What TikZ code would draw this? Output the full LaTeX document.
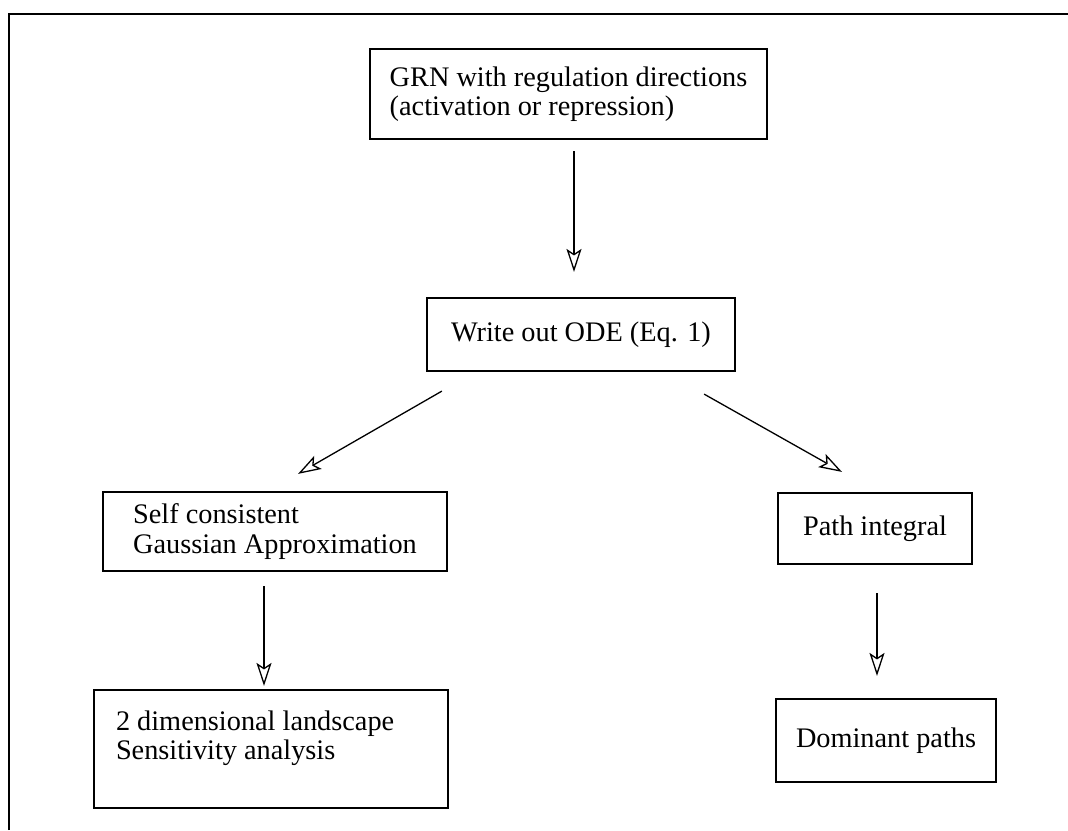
\documentclass[tikz,border=0pt]{standalone}
\usepackage{fontspec}
\setmainfont{Liberation Serif}
\usetikzlibrary{arrows.meta,calc}
\begin{document}
\begin{tikzpicture}[x=1pt,y=-1pt,
  box/.style={draw, line width=2.2pt, inner sep=0pt, align=left,
    font=\fontsize{28.3}{29.5}\selectfont},
  arr/.style={line width=1.3pt,
    -{Stealth[open, length=23pt, width=15pt, inset=5pt]}}]
\useasboundingbox (0,0) rectangle (1068,830);
% outer frame (left and top sides only)
\draw[line width=2.5pt] (9,830) -- (9,14) -- (1068,14);
% boxes
\node[box, minimum width=397pt, minimum height=90pt] (b1) at (568.5,94)
  {GRN with regulation directions\\(activation or repression)};
\node[box, minimum width=308pt, minimum height=73pt] (b2) at (581,334.5)
  {Write out ODE (Eq. 1)};
\node[box, minimum width=344pt, minimum height=79pt] (b3) at (275,531.5)
  {Self consistent\\Gaussian Approximation};
\node[box, minimum width=194pt, minimum height=71pt] (b4) at (875,528.5)
  {Path integral};
\node[box, minimum width=354pt, minimum height=118pt] (b6) at (271,749)
  {\parbox[c][118pt][t]{310pt}{\rule{0pt}{40pt}2 dimensional landscape\\Sensitivity analysis}};
\node[box, minimum width=220pt, minimum height=83pt] (b5) at (886,740.5)
  {Dominant paths};
% connectors
\draw[arr] ($(b1.south)+(5.5,11)$) -- ($(b2.north)+(-7,-25)$);
\draw[arr] ($(b2.south west)+(16,19)$) -- ($(b3.north)+(23,-17)$);
\draw[arr] ($(b2.south east)+(-32,22)$) -- ($(b4.north)+(-33,-20)$);
\draw[arr] ($(b3.south)+(-11,14)$) -- ($(b6.north)+(-7,-3)$);
\draw[arr] ($(b4.south)+(2,28)$) -- ($(b5.north)+(-9,-22)$);
\end{tikzpicture}
\end{document}
